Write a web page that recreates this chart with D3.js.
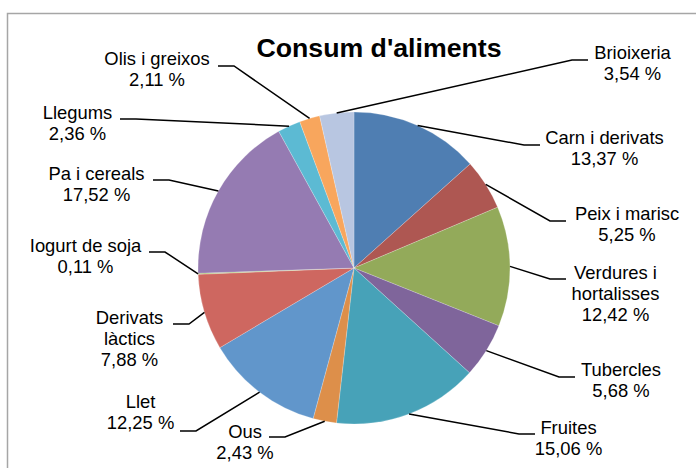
<!DOCTYPE html>
<html>
<head>
<meta charset="utf-8">
<script src="https://cdn.jsdelivr.net/npm/d3@7"></script>
<style>
  body { margin: 0; background: #fff; }
  svg { display: block; font-family: "Liberation Sans", Arial, sans-serif; }
</style>
</head>
<body>
<svg id="chart" width="696" height="468"></svg>
<script>
// categories (clockwise from 12 o'clock), "\n" = line break as in the picture
const categories = [
  "Carn i derivats", "Peix i marisc", "Verdures i\nhortalisses", "Tubercles",
  "Fruites", "Ous", "Llet", "Derivats\nlàctics", "Iogurt de soja",
  "Pa i cereals", "Llegums", "Olis i greixos", "Brioixeria"
];
const values = [13.37, 5.25, 12.42, 5.68, 15.06, 2.43, 12.25, 7.88, 0.11, 17.52, 2.36, 2.11, 3.54];
const colors = [
  "#4f7eb2", "#ae5752", "#93aa5a", "#7f659b", "#47a2b8", "#dd8f4a", "#6196cb",
  "#ce6760", "#a9c46e", "#957bb2", "#5cbad3", "#f8a65d", "#b8c6e1"
];

// label layout: text centre x, first baseline y, stub end x (next to text), stub y
const labelLayout = [
  [604.5, 143.5, 540, 145], [627, 220, 566, 221], [615.5, 279, 566, 279],
  [621, 376, 575, 377], [568.5, 433.5, 535, 434], [245, 438, 269, 437],
  [140.5, 408, 180, 431], [129.5, 324, 173, 324], [85.5, 252, 149, 252],
  [96.5, 180, 153, 180], [77.5, 118.5, 120, 119], [157, 64.5, 218, 66],
  [632.5, 59, 588, 60]
];

const svg = d3.select("#chart");
const cx = 354, cy = 268, r = 156;
const fmt = v => d3.format(".2f")(v).replace(".", ",") + " %";

// chart area border
svg.append("rect")
  .attr("x", 7.5).attr("y", 13.5)
  .attr("width", 720).attr("height", 480)
  .attr("fill", "none").attr("stroke", "#a6a6a6").attr("stroke-width", 1.5);

const data = categories.map((c, i) => ({ name: c, value: values[i], color: colors[i], lay: labelLayout[i] }));

const pie = d3.pie().value(d => d.value).sort(null);
const arc = d3.arc().innerRadius(0).outerRadius(r);
const arcs = pie(data);

const g = svg.append("g").attr("transform", `translate(${cx},${cy})`);

g.selectAll("path")
  .data(arcs)
  .join("path")
  .attr("d", arc)
  .attr("fill", d => d.data.color)
  .attr("stroke", "#ffffff")
  .attr("stroke-opacity", 0.35)
  .attr("stroke-width", 0.6);

// leader lines: from the arc edge at mid-angle to a short horizontal stub
const stubLen = 16;
svg.append("g")
  .selectAll("polyline")
  .data(arcs)
  .join("polyline")
  .attr("fill", "none")
  .attr("stroke", "#000")
  .attr("stroke-width", 1.5)
  .attr("points", d => {
    const a = (d.startAngle + d.endAngle) / 2;
    const px = cx + r * Math.sin(a), py = cy - r * Math.cos(a);
    const [, , sx, sy] = d.data.lay;
    const dir = sx > cx ? -1 : 1;
    return [[px, py], [sx + dir * stubLen, sy], [sx, sy]].map(p => p.join(",")).join(" ");
  });

// labels
const labels = svg.append("g")
  .selectAll("text")
  .data(arcs)
  .join("text")
  .attr("text-anchor", "middle")
  .attr("font-size", 18.4)
  .attr("fill", "#000");

labels.each(function (d) {
  const [tx, ty] = d.data.lay;
  const lines = d.data.name.split("\n").concat([fmt(d.data.value)]);
  d3.select(this).selectAll("tspan")
    .data(lines)
    .join("tspan")
    .attr("x", tx)
    .attr("y", (l, i) => ty + i * 21)
    .text(l => l);
});

// title
svg.append("text")
  .attr("x", 379).attr("y", 57)
  .attr("text-anchor", "middle")
  .attr("font-size", 26.7)
  .attr("font-weight", "bold")
  .text("Consum d'aliments");
</script>
</body>
</html>
